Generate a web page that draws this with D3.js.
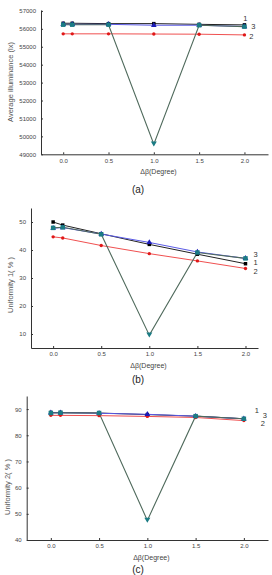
<!DOCTYPE html>
<html>
<head>
<meta charset="utf-8">
<script src="https://cdn.jsdelivr.net/npm/d3@7"></script>
<style>
  body { margin: 0; background: #fff; }
  svg { display: block; font-family: "Liberation Sans", Arial, sans-serif; }
  .tick text { fill: #444; font-size: 6px; }
  .axis path, .axis line { stroke: #333; stroke-width: 1; }
</style>
</head>
<body>
<svg id="chart" width="272" height="575"></svg>
<script>
// delta beta values (degree)
var xVals = [0, 0.1, 0.5, 1.0, 1.5, 2.0];
var xTicks = [0, 0.5, 1.0, 1.5, 2.0];

// (a) average illuminance (lx)
var illum1 = [56310, 56310, 56290, 56290, 56250, 56220];
var illum2 = [55720, 55720, 55720, 55710, 55700, 55660];
var illum3 = [56250, 56250, 56250, 56200, 56200, 56130];
var illum4 = [56230, 56230, 56230, 49570, 56200, 56120];
var illumTicks = [49000, 50000, 51000, 52000, 53000, 54000, 55000, 56000, 57000];

// (b) uniformity 1 (%)
var unif1_1 = [50.0, 48.9, 45.8, 42.0, 38.5, 35.1];
var unif1_2 = [44.7, 44.3, 41.6, 38.7, 36.1, 33.4];
var unif1_3 = [47.8, 48.0, 45.7, 42.7, 39.3, 37.0];
var unif1_4 = [47.9, 48.1, 45.6, 9.6, 39.1, 37.0];
var unif1Ticks = [10, 20, 30, 40, 50];

// (c) uniformity 2 (%)
var unif2_1 = [88.7, 88.7, 88.5, 87.9, 87.3, 86.3];
var unif2_2 = [87.6, 87.6, 87.5, 87.2, 86.8, 85.6];
var unif2_3 = [88.6, 88.6, 88.4, 88.0, 87.3, 86.3];
var unif2_4 = [88.5, 88.6, 88.5, 47.5, 87.3, 86.3];
var unif2Ticks = [40, 50, 60, 70, 80, 90];

var seriesNames = ["1", "2", "3"];

var svg = d3.select("#chart");

var panels = [
  { series: [illum1, illum2, illum3, illum4], ticks: illumTicks, yTitle: "Average illuminance (lx)", tag: "(a)",
    xDom: [-0.245, 2.26], xRange: [41, 268], yDom: [49000, 57050], yRange: [154.3, 10],
    yTitlePos: [10, 82], tagY: 193,
    lab: [[1, -7], [7, 1], [9, -0.5]] },   // offsets for labels 1, 2, 3 (dx, dy)
  { series: [unif1_1, unif1_2, unif1_3, unif1_4], ticks: unif1Ticks, yTitle: "Uniformity 1( % )", tag: "(b)",
    xDom: [-0.23, 2.13], xRange: [31, 258], yDom: [5, 55], yRange: [348, 208],
    yTitlePos: [10, 285], tagY: 383,
    lab: [[10, -1.5], [10, 3], [10, -4.5]] },
  { series: [unif2_1, unif2_2, unif2_3, unif2_4], ticks: unif2Ticks, yTitle: "Uniformity 2( % )", tag: "(c)",
    xDom: [-0.25, 2.25], xRange: [26.7, 268], yDom: [40, 95], yRange: [540, 396],
    yTitlePos: [7, 487], tagY: 573,
    lab: [[13, -8], [19, 2.5], [21, -3.5]] }
];

var lineCol = ["#222", "#f05050", "#5a5ae6", "#4f6a5c"];
var markCol = ["#000", "#e01818", "#1a1ab8", "#1b7c84"];

panels.forEach(function(p) {
  var x = d3.scaleLinear().domain(p.xDom).range(p.xRange);
  var y = d3.scaleLinear().domain(p.yDom).range(p.yRange);
  var g = svg.append("g");

  g.append("g")
    .attr("class", "axis")
    .attr("transform", "translate(0," + p.yRange[0] + ")")
    .call(d3.axisBottom(x).tickValues(xTicks).tickFormat(d3.format(".1f")).tickSizeInner(-2).tickSizeOuter(0).tickPadding(4));

  g.append("g")
    .attr("class", "axis")
    .attr("transform", "translate(" + p.xRange[0] + ",0)")
    .call(d3.axisLeft(y).tickValues(p.ticks).tickFormat(d3.format("d")).tickSizeInner(-2).tickSizeOuter(0).tickPadding(5));

  g.append("text")
    .attr("x", (p.xRange[0] + p.xRange[1]) / 2 + 4)
    .attr("y", p.yRange[0] + 20)
    .attr("text-anchor", "middle")
    .attr("font-size", "7px")
    .attr("fill", "#444")
    .text("Δβ(Degree)");

  g.append("text")
    .attr("transform", "translate(" + p.yTitlePos[0] + "," + p.yTitlePos[1] + ") rotate(-90)")
    .attr("text-anchor", "middle")
    .attr("dy", "0.35em")
    .attr("font-size", "7.5px")
    .attr("fill", "#555")
    .text(p.yTitle);

  g.append("text")
    .attr("x", 138)
    .attr("y", p.tagY)
    .attr("text-anchor", "middle")
    .attr("font-size", "10px")
    .attr("fill", "#222")
    .text(p.tag);

  var line = d3.line()
    .x(function(d, i) { return x(xVals[i]); })
    .y(function(d) { return y(d); });

  p.series.forEach(function(s, k) {
    g.append("path")
      .datum(s)
      .attr("fill", "none")
      .attr("stroke", lineCol[k])
      .attr("stroke-width", k == 3 ? 1.1 : 1)
      .attr("d", line);
  });

  p.series.forEach(function(s, k) {
    var minIdx = d3.minIndex(s);
    g.selectAll(".m" + k)
      .data(s)
      .enter().append("path")
      .attr("transform", function(d, i) { return "translate(" + x(xVals[i]) + "," + y(d) + ")"; })
      .attr("fill", markCol[k])
      .attr("d", function(d, i) {
        if (k == 0) return d3.symbol(d3.symbolSquare, 12)();
        if (k == 1) return d3.symbol(d3.symbolCircle, 9)();
        if (k == 2) return d3.symbol(d3.symbolTriangle, 14)();
        if (i == minIdx) return "M-3,-2.5L3,-2.5L0,2.5Z";
        return d3.symbol(d3.symbolSquare, 20)();
      });
  });

  // curve labels at the right end
  var last = xVals.length - 1;
  seriesNames.forEach(function(name, k) {
    g.append("text")
      .attr("x", x(xVals[last]) + p.lab[k][0])
      .attr("y", y(p.series[k][last]) + p.lab[k][1])
      .attr("dy", "0.35em")
      .attr("text-anchor", "middle")
      .attr("font-size", "7.5px")
      .attr("fill", "#333")
      .text(name);
  });
});
</script>
</body>
</html>
